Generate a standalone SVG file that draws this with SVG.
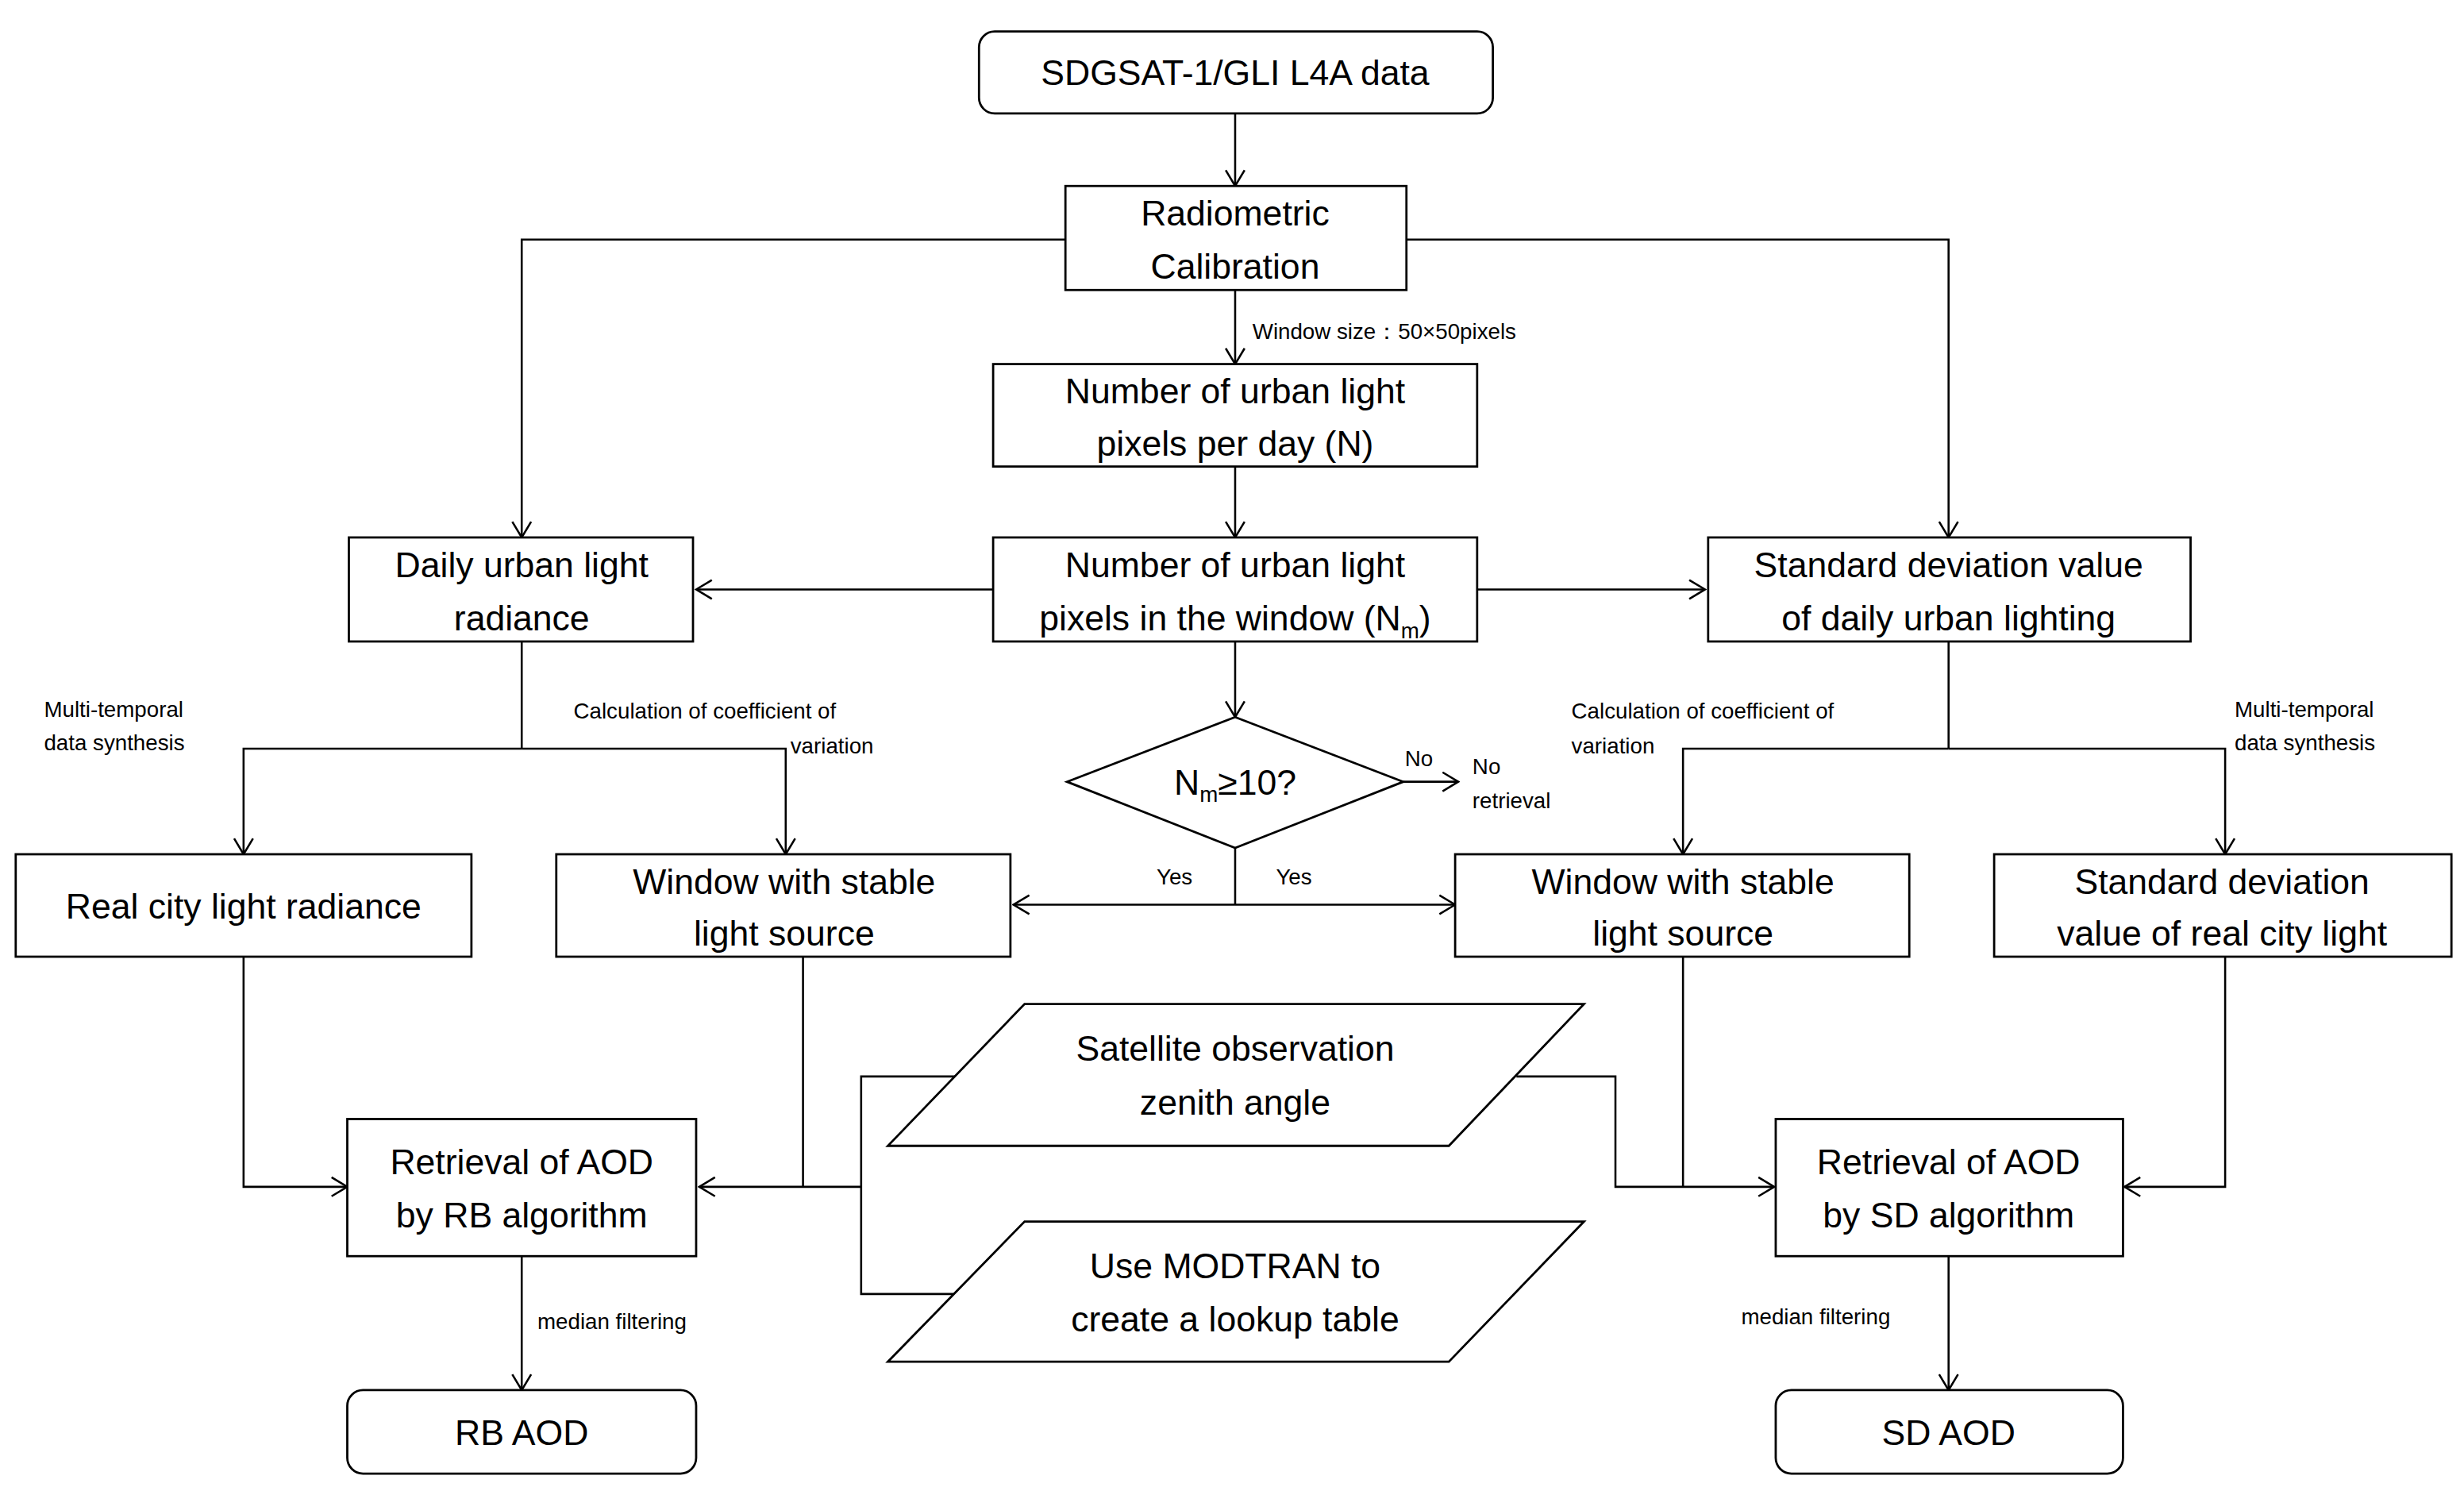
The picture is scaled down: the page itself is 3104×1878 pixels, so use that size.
<svg xmlns="http://www.w3.org/2000/svg" width="3104" height="1878" viewBox="0 0 3104 1878">
<style>
.b{fill:#fff;stroke:#000;stroke-width:1.4}
.t{font-family:"Liberation Sans",Arial,sans-serif;font-size:22.5px;text-anchor:middle;fill:#000}
.s{font-family:"Liberation Sans",Arial,sans-serif;font-size:14px;fill:#000}
.c{fill:none;stroke:#000;stroke-width:1.3}
</style>
<defs><marker id="a" markerWidth="12" markerHeight="14" refX="11" refY="7" orient="auto" markerUnits="userSpaceOnUse"><path d="M1,1 L11,7 L1,13" fill="none" stroke="#000" stroke-width="1.3"/></marker></defs>
<rect width="3104" height="1878" fill="#fff"/>
<g transform="scale(1.9796,1.9852)">
<g id="connectors">
<path class="c" d="M786,72 V118" marker-end="url(#a)"/>
<path class="c" d="M786,184 V231" marker-end="url(#a)"/>
<path class="c" d="M786,296 V341" marker-end="url(#a)"/>
<path class="c" d="M678,152 H332 V341" marker-end="url(#a)"/>
<path class="c" d="M895,152 H1240 V341" marker-end="url(#a)"/>
<path class="c" d="M632,374 H443" marker-end="url(#a)"/>
<path class="c" d="M940,374 H1085" marker-end="url(#a)"/>
<path class="c" d="M786,407 V455" marker-end="url(#a)"/>
<path class="c" d="M893,496 H928" marker-end="url(#a)"/>
<path class="c" d="M786,538 V574"/>
<path class="c" d="M786,574 H645" marker-end="url(#a)"/>
<path class="c" d="M786,574 H926" marker-end="url(#a)"/>
<path class="c" d="M332,407 V475"/>
<path class="c" d="M332,475 H155 V542" marker-end="url(#a)"/>
<path class="c" d="M332,475 H500 V542" marker-end="url(#a)"/>
<path class="c" d="M1240,407 V475"/>
<path class="c" d="M1240,475 H1071 V542" marker-end="url(#a)"/>
<path class="c" d="M1240,475 H1416 V542" marker-end="url(#a)"/>
<path class="c" d="M155,607 V753 H221" marker-end="url(#a)"/>
<path class="c" d="M511,607 V753"/>
<path class="c" d="M608,683 H548 V821 H607"/>
<path class="c" d="M548,753 H445" marker-end="url(#a)"/>
<path class="c" d="M965,683 H1028 V753 H1129" marker-end="url(#a)"/>
<path class="c" d="M1071,607 V753"/>
<path class="c" d="M1416,607 V753 H1352" marker-end="url(#a)"/>
<path class="c" d="M332,797 V882" marker-end="url(#a)"/>
<path class="c" d="M1240,797 V882" marker-end="url(#a)"/>
</g>
<g id="labels">
<text class="s" x="797" y="215">Window size：50×50pixels</text>
<text class="s" x="28" y="455">Multi-temporal</text>
<text class="s" x="28" y="476">data synthesis</text>
<text class="s" x="365" y="456">Calculation of coefficient of</text>
<text class="s" x="503" y="478">variation</text>
<text class="s" x="1000" y="456">Calculation of coefficient of</text>
<text class="s" x="1000" y="478">variation</text>
<text class="s" x="1422" y="455">Multi-temporal</text>
<text class="s" x="1422" y="476">data synthesis</text>
<text class="s" x="894" y="486">No</text>
<text class="s" x="937" y="491">No</text>
<text class="s" x="937" y="513">retrieval</text>
<text class="s" x="736" y="561">Yes</text>
<text class="s" x="812" y="561">Yes</text>
<text class="s" x="342" y="843">median filtering</text>
<text class="s" x="1108" y="840">median filtering</text>
</g>
<g id="n1"><rect class="b" x="623" y="20" width="327" height="52" rx="10"/><text class="t" x="786" y="54">SDGSAT-1/GLI L4A data</text></g>
<g id="n2"><rect class="b" x="678" y="118" width="217" height="66"/><text class="t" x="786" y="143">Radiometric</text><text class="t" x="786" y="177">Calibration</text></g>
<g id="n3"><rect class="b" x="632" y="231" width="308" height="65"/><text class="t" x="786" y="256">Number of urban light</text><text class="t" x="786" y="289">pixels per day (N)</text></g>
<g id="n4"><rect class="b" x="222" y="341" width="219" height="66"/><text class="t" x="332" y="366">Daily urban light</text><text class="t" x="332" y="400">radiance</text></g>
<g id="n5"><rect class="b" x="632" y="341" width="308" height="66"/><text class="t" x="786" y="366">Number of urban light</text><text class="t" x="786" y="400">pixels in the window (N<tspan font-size="14" dy="5">m</tspan><tspan dy="-5">)</tspan></text></g>
<g id="n6"><rect class="b" x="1087" y="341" width="307" height="66"/><text class="t" x="1240" y="366">Standard deviation value</text><text class="t" x="1240" y="400">of daily urban lighting</text></g>
<g id="n7"><polygon class="b" points="786,455 893,496 786,538 679,496"/><text class="t" x="786" y="504">N<tspan font-size="14" dy="5">m</tspan><tspan dy="-5">≥10?</tspan></text></g>
<g id="n8"><rect class="b" x="10" y="542" width="290" height="65"/><text class="t" x="155" y="583">Real city light radiance</text></g>
<g id="n9"><rect class="b" x="354" y="542" width="289" height="65"/><text class="t" x="499" y="567">Window with stable</text><text class="t" x="499" y="600">light source</text></g>
<g id="n10"><rect class="b" x="926" y="542" width="289" height="65"/><text class="t" x="1071" y="567">Window with stable</text><text class="t" x="1071" y="600">light source</text></g>
<g id="n11"><rect class="b" x="1269" y="542" width="291" height="65"/><text class="t" x="1414" y="567">Standard deviation</text><text class="t" x="1414" y="600">value of real city light</text></g>
<g id="n12"><polygon class="b" points="652,637 1008,637 922,727 565,727"/><text class="t" x="786" y="673">Satellite observation</text><text class="t" x="786" y="707">zenith angle</text></g>
<g id="n13"><polygon class="b" points="652,775 1008,775 922,864 565,864"/><text class="t" x="786" y="811">Use MODTRAN to</text><text class="t" x="786" y="845">create a lookup table</text></g>
<g id="n14"><rect class="b" x="221" y="710" width="222" height="87"/><text class="t" x="332" y="745">Retrieval of AOD</text><text class="t" x="332" y="779">by RB algorithm</text></g>
<g id="n15"><rect class="b" x="1130" y="710" width="221" height="87"/><text class="t" x="1240" y="745">Retrieval of AOD</text><text class="t" x="1240" y="779">by SD algorithm</text></g>
<g id="n16"><rect class="b" x="221" y="882" width="222" height="53" rx="10"/><text class="t" x="332" y="917">RB AOD</text></g>
<g id="n17"><rect class="b" x="1130" y="882" width="221" height="53" rx="10"/><text class="t" x="1240" y="917">SD AOD</text></g>
</g>
</svg>
